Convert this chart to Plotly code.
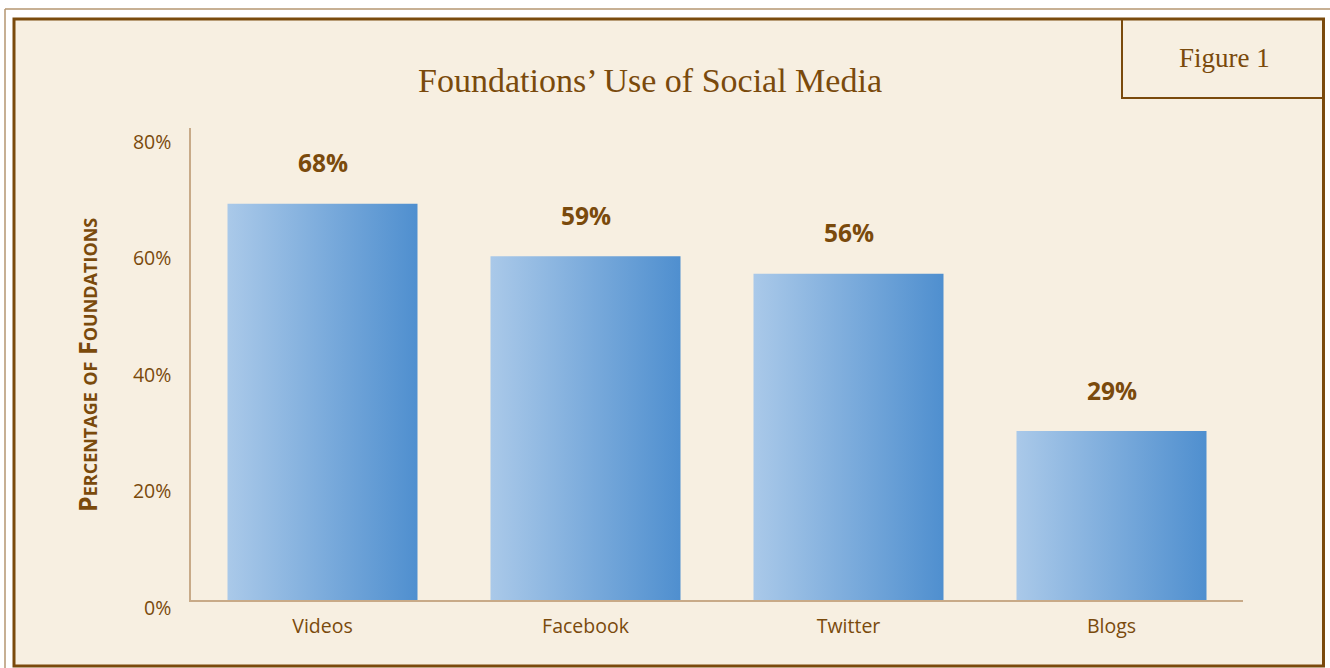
import plotly.graph_objects as go

categories = ["Videos", "Facebook", "Twitter", "Blogs"]
values = [68, 59, 56, 29]
y_tick_values = [0, 20, 40, 60, 80]
y_tick_labels = ["0%", "20%", "40%", "60%", "80%"]
title_text = "Foundations’ Use of Social Media"
y_title = "Percentage of Foundations"
figure_tag = "Figure 1"

BROWN = "#7a4a0c"
CREAM = "#f7efe1"
AXIS = "#c8aa88"
SANS = "Open Sans, DejaVu Sans, sans-serif"
SERIF = "Liberation Serif, DejaVu Serif, serif"

W, H = 1330, 668
L, R, T, B = 191, 87, 128, 68
PW, PH = W - L - R, H - T - B


def px_x(px):
    return (px - L) / PW


def px_y(py):
    return (H - B - py) / PH


fig = go.Figure()

half = 0.3612
for i, (cat, v) in enumerate(zip(categories, values)):
    fig.add_trace(go.Scatter(
        x=[i - half, i + half, i + half, i - half, i - half],
        y=[0, 0, v, v, 0],
        mode="lines",
        fill="toself",
        fillgradient=dict(type="horizontal",
                          colorscale=[[0, "#aac9e9"], [1, "#4f8fcf"]]),
        line=dict(width=0, color="rgba(0,0,0,0)"),
        name=cat,
        hoverinfo="text",
        text=f"{cat}: {v}%",
        showlegend=False,
    ))
    fig.add_annotation(x=i, y=v, text=f"<b>{v}%</b>", showarrow=False,
                       yanchor="middle", yshift=41,
                       font=dict(family=SANS, size=24.5, color=BROWN))

shapes = [
    dict(type="rect", xref="paper", yref="paper", layer="below",
         x0=px_x(14), x1=px_x(1323.5), y0=px_y(666), y1=px_y(19),
         fillcolor=CREAM, line=dict(color=BROWN, width=3)),
    dict(type="line", xref="paper", yref="paper", layer="below",
         x0=px_x(5), x1=px_x(1335), y0=px_y(9), y1=px_y(9),
         line=dict(color="#b59670", width=1.5)),
    dict(type="line", xref="paper", yref="paper", layer="below",
         x0=px_x(5), x1=px_x(5), y0=px_y(9), y1=px_y(675),
         line=dict(color="#b59670", width=1.5)),
    dict(type="rect", xref="paper", yref="paper", layer="above",
         x0=px_x(1122), x1=px_x(1323.5), y0=px_y(98), y1=px_y(19),
         line=dict(color=BROWN, width=2)),
]

fig.add_annotation(xref="paper", yref="paper", x=px_x(1224), y=px_y(58),
                   text=figure_tag, showarrow=False,
                   xanchor="center", yanchor="middle",
                   font=dict(family=SERIF, size=27, color=BROWN))
fig.add_annotation(xref="paper", yref="paper", x=px_x(87), y=px_y(365),
                   text=f"<b>{y_title}</b>", showarrow=False, textangle=-90,
                   xanchor="center", yanchor="middle",
                   font=dict(family=SANS, size=25, color=BROWN,
                             variant="small-caps"))

fig.update_layout(
    width=W, height=H,
    margin=dict(l=L, r=R, t=T, b=B, autoexpand=False),
    paper_bgcolor="white",
    plot_bgcolor="rgba(0,0,0,0)",
    shapes=shapes,
    title=dict(text=title_text, x=650 / W, xanchor="center",
               y=1 - 80 / H, yanchor="middle",
               font=dict(family=SERIF, size=34, color=BROWN)),
    xaxis=dict(range=[-0.5, 3.5], tickvals=list(range(len(categories))),
               ticktext=categories, showgrid=False, zeroline=False,
               showline=True, linecolor=AXIS, linewidth=1.5, ticks="",
               ticklabelstandoff=8,
               tickfont=dict(family=SANS, size=19.5, color=BROWN),
               fixedrange=True),
    yaxis=dict(range=[0, 81], tickvals=y_tick_values, ticktext=y_tick_labels,
               showgrid=False, zeroline=False, showline=True,
               linecolor=AXIS, linewidth=1.5, ticks="",
               ticklabelstandoff=14, ticklabelshift=8,
               tickfont=dict(family=SANS, size=19.5, color=BROWN),
               fixedrange=True),
    showlegend=False,
)

fig.write_html("out.html",
               config={"displayModeBar": False},
               post_script="document.body.style.margin='0';")
